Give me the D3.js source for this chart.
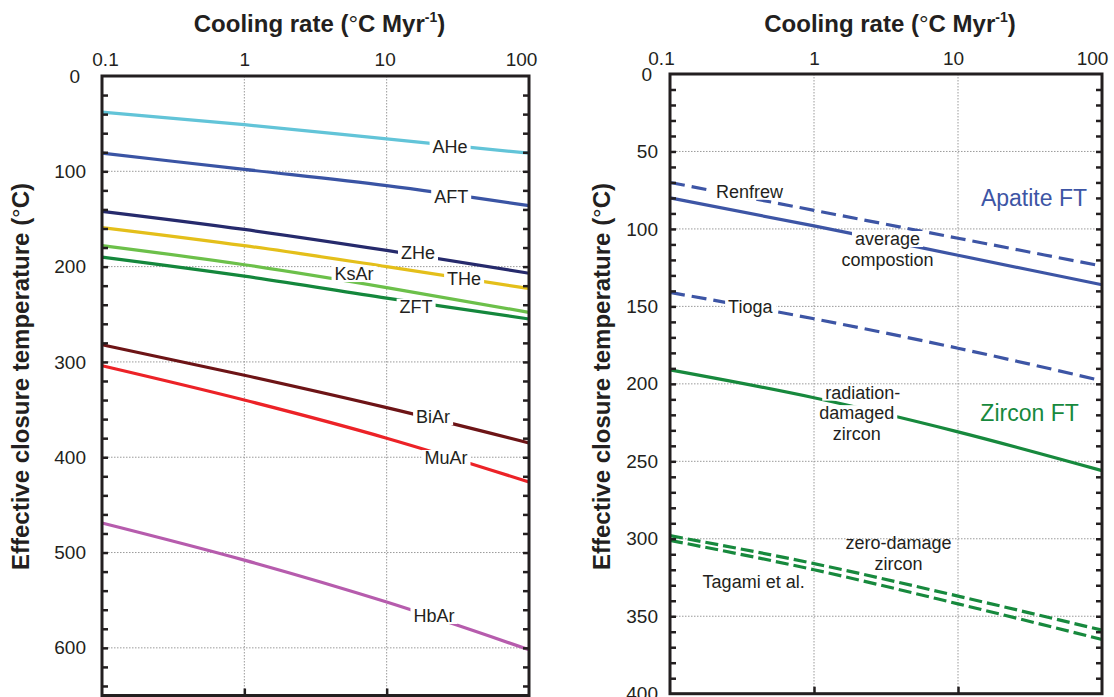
<!DOCTYPE html>
<html>
<head>
<meta charset="utf-8">
<script src="https://cdn.jsdelivr.net/npm/d3@7"></script>
<style>
    body { margin: 0; background: #fff; }
    svg { display: block; font-family: "Liberation Sans", Arial, sans-serif; }
</style>
</head>
<body>
<script>
// cooling rates the curves were read at (°C/Myr)
const rates = [0.1, 1, 10, 100]
const rateTicks = [0.1, 1, 10, 100]

// left panel: closure temperatures (°C) at each rate
const leftNames = ["AHe", "AFT", "ZHe", "THe", "KsAr", "ZFT", "BiAr", "MuAr", "HbAr"]
const leftValues = [
    [38, 51, 66, 81],
    [81, 98, 115, 136],
    [142, 161, 183, 207],
    [159, 178, 200, 223],
    [178, 198, 222, 248],
    [190, 210, 233, 255],
    [282, 314, 348, 385],
    [304, 340, 380, 426],
    [469, 508, 552, 602]
]
// where the names sit on their curves (rate, temperature)
const leftLabelRates = [27.9, 28.4, 16.6, 35, 5.9, 16.1, 21.2, 26.1, 21.5]
const leftLabelTemps = [74.5, 126.7, 185.7, 213, 207.8, 242, 357.8, 400.8, 566.6]
const leftTempTicks = [0, 100, 200, 300, 400, 500, 600]

// right panel: fission track curves
const rightNames = ["Renfrew", "average", "Tioga", "radiationDamaged", "zeroDamage", "tagami"]
const rightValues = [
    [70, 88, 106, 124],
    [80, 98, 117, 136],
    [141, 158, 177, 198],
    [191, 209, 231, 256],
    [298, 316, 337, 359],
    [301, 320, 342, 365]
]
const rightLabelText = ["Renfrew", "Apatite FT", "average", "compostion", "Tioga", "radiation-", "damaged", "zircon",
                        "Zircon FT", "zero-damage", "zircon", "Tagami et al."]
const rightLabelRates = [0.356, 33.7, 3.24, 3.24, 0.361, 2.18, 1.98, 1.98, 31.4, 3.86, 3.86, 0.381]
const rightLabelTemps = [76, 80, 106.5, 120, 150.2, 205.7, 218.9, 232.4, 218.9, 303, 316.3, 327.8]
const rightTempTicks = [0, 50, 100, 150, 200, 250, 300, 350, 400]

const INK = "#231f20"
const BLUE = "#3d55a5"
const GREEN = "#17893d"

const leftColors = ["#62c4d8", "#3a54a4", "#262a6c", "#e4bf1a", "#6cc04a", "#14873c", "#6d1416", "#ec2227", "#b65cad"]
const rightStyles = {
    Renfrew:          { color: BLUE,  dash: "15,7" },
    average:          { color: BLUE,  dash: null },
    Tioga:            { color: BLUE,  dash: "15,7" },
    radiationDamaged: { color: GREEN, dash: null },
    zeroDamage:       { color: GREEN, dash: "13,5" },
    tagami:           { color: GREEN, dash: "13,5" }
}
const rightLabelStyle = {
    "Renfrew":    { knock: true },
    "Apatite FT": { size: 23, color: BLUE },
    "average":    { knock: true },
    "Tioga":      { knock: true },
    "radiation-": { knock: true },
    "damaged":    { knock: true },
    "Zircon FT":  { size: 23, color: GREEN }
}

const svg = d3.select("body").append("svg")
    .attr("width", 1114)
    .attr("height", 697)

function panel(opt) {
    const x = d3.scaleLog().domain([0.1, 100]).range([opt.x0, opt.x1])
    const y = d3.scaleLinear().domain([0, opt.tMax]).range([opt.y0, opt.y1])
    const g = svg.append("g")

    // dotted grid
    g.append("g").selectAll("line")
        .data(opt.temps.filter(t => t > 0 && t < opt.tMax))
        .enter().append("line")
            .attr("x1", opt.x0).attr("x2", opt.x1)
            .attr("y1", d => y(d)).attr("y2", d => y(d))
            .attr("stroke", "#9a9a9a").attr("stroke-width", 1).attr("stroke-dasharray", "1.5,1.5")
    g.append("g").selectAll("line")
        .data([1, 10])
        .enter().append("line")
            .attr("x1", d => x(d)).attr("x2", d => x(d))
            .attr("y1", opt.y0).attr("y2", opt.y1)
            .attr("stroke", "#9a9a9a").attr("stroke-width", 1).attr("stroke-dasharray", "1.5,1.5")

    // curves
    const line = d3.line().x((d, i) => x(rates[i])).y(d => y(d)).curve(d3.curveMonotoneX)
    g.append("g").selectAll("path")
        .data(opt.series)
        .enter().append("path")
            .attr("d", d => line(d.values))
            .attr("fill", "none")
            .attr("stroke", d => d.color)
            .attr("stroke-width", 3.2)
            .attr("stroke-dasharray", d => d.dash)

    // labels, with a white patch where they cut a curve
    const lab = g.append("g")
    opt.labels.forEach(l => {
        const t = lab.append("text")
            .attr("x", x(l.rate))
            .attr("y", y(l.temp))
            .attr("text-anchor", "middle")
            .attr("dominant-baseline", "central")
            .attr("font-size", (l.size || 18) + "px")
            .attr("fill", l.color || INK)
            .text(l.text)
        if (l.knock) {
            const b = t.node().getBBox()
            lab.insert("rect", () => t.node())
                .attr("x", b.x - 3).attr("y", b.y + 2)
                .attr("width", b.width + 6).attr("height", b.height - 4)
                .attr("fill", "#fff")
        }
    })

    // inward ticks on both sides and bottom
    const minor = d3.range(opt.step, opt.tMax, opt.step)
    g.append("g").attr("transform", `translate(${opt.x0},0)`)
        .call(d3.axisRight(y).tickValues(minor).tickSize(6).tickFormat(""))
    g.append("g").attr("transform", `translate(${opt.x1},0)`)
        .call(d3.axisLeft(y).tickValues(minor).tickSize(6).tickFormat(""))
    g.append("g").attr("transform", `translate(0,${opt.y1})`)
        .call(d3.axisTop(x).tickValues([1, 10]).tickSize(7).tickFormat(""))
    g.selectAll(".tick line").attr("stroke", INK).attr("stroke-width", 2.5)
    g.selectAll(".domain").remove()

    g.append("rect")
        .attr("x", opt.x0).attr("y", opt.y0)
        .attr("width", opt.x1 - opt.x0).attr("height", opt.y1 - opt.y0)
        .attr("fill", "none").attr("stroke", INK).attr("stroke-width", 3)

    // tick labels
    const ya = g.append("g").attr("transform", `translate(${opt.x0},0)`)
        .call(d3.axisLeft(y).tickValues(opt.temps).tickSize(0).tickPadding(opt.yPad).tickFormat(d3.format("d")))
    const xa = g.append("g").attr("transform", `translate(0,${opt.y0})`)
        .call(d3.axisTop(x).tickValues(rateTicks).tickSize(0).tickPadding(opt.xPad).tickFormat(d => String(d)))
    ya.select(".domain").remove()
    xa.select(".domain").remove()
    ya.selectAll("text").attr("font-size", "19px").attr("font-family", null).attr("fill", INK)
    xa.selectAll("text").attr("font-size", "19px").attr("font-family", null).attr("fill", INK)
        .attr("dx", (d, i) => opt.xDx[i])
    ya.selectAll("text").filter(d => d === 0).attr("dx", -6)

    // titles
    const title = svg.append("text")
        .attr("x", (opt.x0 + opt.x1) / 2 + 4)
        .attr("y", 32)
        .attr("text-anchor", "middle")
        .attr("font-size", "24px").attr("font-weight", "bold").attr("fill", INK)
    title.append("tspan").text("Cooling rate (")
    title.append("tspan").attr("font-weight", "normal").text("°")
    title.append("tspan").text("C Myr")
    title.append("tspan").attr("font-size", "14px").attr("dy", -10).text("-1")
    title.append("tspan").attr("dy", 10).text(")")

    const yl = svg.append("text")
        .attr("transform", `translate(${opt.yLabelX},570) rotate(-90)`)
        .attr("font-size", "24px").attr("font-weight", "bold").attr("fill", INK)
    yl.append("tspan").text("Effective closure temperature (")
    yl.append("tspan").attr("font-weight", "normal").text("°")
    yl.append("tspan").text("C)")
}

panel({
    x0: 102, x1: 529, y0: 76, y1: 695.5,
    tMax: 650, step: 20, temps: leftTempTicks,
    yPad: 16, xPad: 10, xDx: [3, 0, -2, -8], yLabelX: 29,
    series: leftNames.map((n, i) => ({ name: n, values: leftValues[i], color: leftColors[i], dash: null })),
    labels: leftNames.map((n, i) => ({ text: n, rate: leftLabelRates[i], temp: leftLabelTemps[i], knock: true }))
})

panel({
    x0: 670, x1: 1102, y0: 74, y1: 693.7,
    tMax: 400, step: 10, temps: rightTempTicks,
    yPad: 12, xPad: 9, xDx: [-9, 0, -5, -10], yLabelX: 610,
    series: rightNames.map((n, i) => ({ name: n, values: rightValues[i], color: rightStyles[n].color, dash: rightStyles[n].dash })),
    labels: rightLabelText.map((t, i) => Object.assign({ text: t, rate: rightLabelRates[i], temp: rightLabelTemps[i] }, rightLabelStyle[t] || {}))
})
</script>
</body>
</html>
